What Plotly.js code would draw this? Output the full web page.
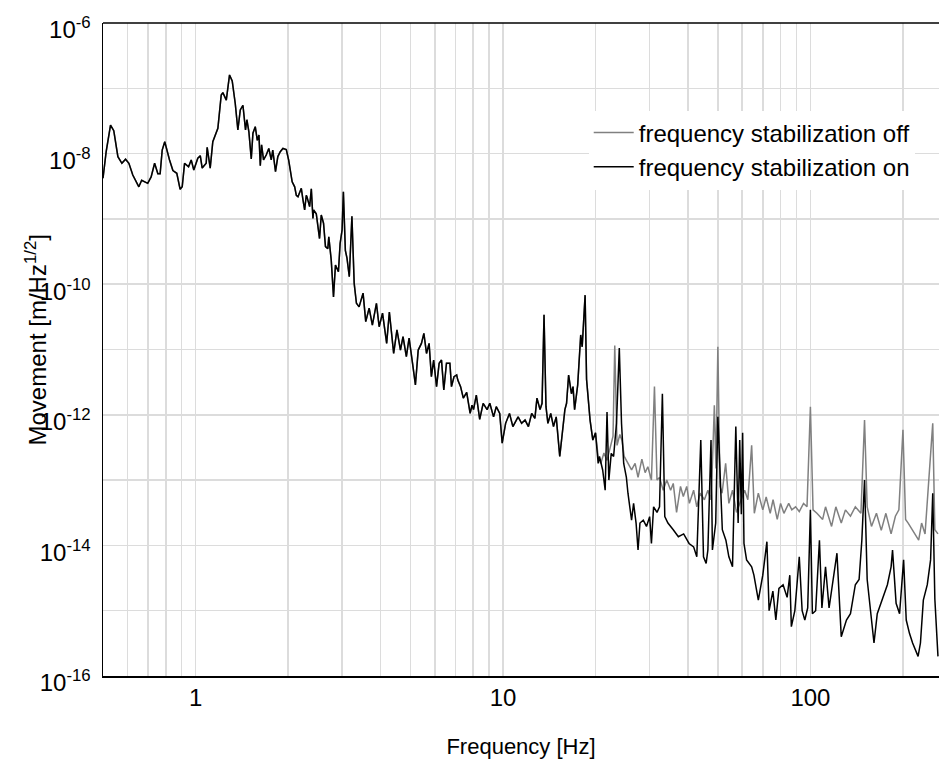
<!DOCTYPE html>
<html>
<head>
<meta charset="utf-8">
<script src="https://cdn.plot.ly/plotly-3.0.1.min.js"></script>
<style>html,body{margin:0;padding:0;background:#fff;}#chart{width:939px;height:763px;}</style>
</head>
<body>
<div id="chart"></div>
<script>
// Shared part of both spectra (the two curves coincide below ~20 Hz)
const freqCommon = [0.5,0.512,0.529,0.542,0.559,0.576,0.592,0.607,0.625,0.654,0.668,0.699,0.717,0.736,0.754,0.767,0.779,0.794,0.823,0.844,0.869,0.891,0.905,0.921,0.949,0.968,0.987,1.017,1.036,1.051,1.083,1.091,1.116,1.138,1.182,1.212,1.227,1.259,1.29,1.316,1.346,1.373,1.398,1.426,1.454,1.469,1.491,1.518,1.537,1.564,1.588,1.608,1.624,1.64,1.664,1.698,1.731,1.763,1.783,1.82,1.852,1.886,1.924,1.973,2.008,2.05,2.062,2.101,2.127,2.154,2.192,2.208,2.236,2.264,2.292,2.303,2.35,2.38,2.409,2.421,2.47,2.531,2.564,2.608,2.646,2.693,2.713,2.763,2.81,2.852,2.916,2.953,2.997,3.026,3.071,3.109,3.163,3.226,3.281,3.337,3.404,3.507,3.578,3.67,3.76,3.876,3.956,4.057,4.185,4.27,4.41,4.52,4.64,4.73,4.85,4.95,5.08,5.19,5.3,5.43,5.53,5.64,5.75,5.85,5.95,6.08,6.2,6.31,6.42,6.55,6.72,6.8,6.93,7.07,7.13,7.28,7.43,7.62,7.82,7.93,8.02,8.19,8.4,8.62,8.88,9.06,9.32,9.51,9.76,9.94,10.2,10.5,10.77,11.2,11.5,11.8,12.1,12.4,12.7,12.9,13.2,13.4,13.6,13.8,14.0,14.3,14.6,14.9,15.3,15.6,15.9,16.1,16.35,16.7,16.9,17.1,17.5,17.9,18.1,18.5,18.7,19.2,19.6,20.0];
const movCommon = [4.2e-9,1.07e-8,2.74e-8,2.24e-8,8.97e-9,7.1e-9,8.2e-9,7.1e-9,4.7e-9,3.1e-9,3.9e-9,3.5e-9,4.4e-9,7.1e-9,4.9e-9,4.9e-9,1.13e-8,1.52e-8,8.0e-9,5.5e-9,5.0e-9,2.84e-9,3.1e-9,7.1e-9,6.3e-9,8.0e-9,5.6e-9,8.5e-9,9.3e-9,6.0e-9,7.1e-9,1.25e-8,6.0e-9,1.52e-8,2.44e-8,7.9e-8,8.6e-8,6.6e-8,1.6e-7,1.3e-7,5.9e-8,2.3e-8,4.66e-8,5.5e-8,2.3e-8,3.3e-8,2.16e-8,8.3e-9,2.05e-8,2.58e-8,1.6e-8,1.93e-8,6.5e-9,1.36e-8,8.0e-9,9.5e-9,1.2e-8,8.0e-9,1.13e-8,5.3e-9,9.0e-9,1.07e-8,1.2e-8,1.15e-8,8.0e-9,3.9e-9,3.7e-9,3.1e-9,2.3e-9,2.19e-9,2.77e-9,2.94e-9,1.95e-9,1.37e-9,2.3e-9,2.19e-9,1.54e-9,2.9e-9,1.02e-9,1.37e-9,1.2e-9,5.0e-10,1.15e-9,8.6e-10,3.76e-10,3.5e-10,5.3e-10,2.34e-10,6.4e-11,1.97e-10,1.55e-10,4.2e-10,6.8e-10,2.6e-9,3.3e-10,2.5e-10,1.3e-10,1.1e-9,1.03e-10,5.1e-11,4.5e-11,7.3e-11,2.67e-11,4.3e-11,2.37e-11,5.1e-11,2.23e-11,3.6e-11,1.24e-11,3.75e-11,8.7e-12,2.0e-11,9.8e-12,1.57e-11,7.8e-12,1.5e-11,6.15e-12,2.86e-12,9.8e-12,1.24e-11,1.77e-11,8.7e-12,1.24e-11,3.83e-12,6.9e-12,2.7e-12,6.15e-12,6.9e-12,2.4e-12,6.15e-12,6.15e-12,2.7e-12,3.83e-12,4.07e-12,3.4e-12,2.7e-12,1.8e-12,2.2e-12,1.05e-12,1.4e-12,1.2e-12,2.0e-12,8.5e-13,1.5e-12,1.2e-12,1.5e-12,9.3e-13,1.33e-12,1.05e-12,3.67e-13,7.4e-13,1.05e-12,6.6e-13,9.3e-13,7.4e-13,8.3e-13,6.6e-13,1.05e-12,8.8e-13,1.8e-12,1.2e-12,1.5e-12,3.4e-11,1.33e-12,7.4e-13,1.05e-12,6.6e-13,9.3e-13,2.3e-13,5.3e-13,1.2e-12,1.5e-12,4.07e-12,2.1e-12,2.7e-12,1.2e-12,2.86e-12,1.67e-11,1.1e-11,6.8e-11,3.5e-12,8.3e-13,4.1e-13,5.3e-13];

// "frequency stabilization off" above 20 Hz
const freqOff = [20.4,20.8,21.3,21.8,22.3,22.8,23.1,23.5,24.0,24.4,24.8,25.5,26.2,26.9,27.5,28.3,29.0,29.6,30.4,31.1,31.7,32.3,33.2,34.1,35.1,35.8,36.7,37.8,38.6,39.6,40.4,41.7,42.7,43.8,45.2,46.4,47.4,48.0,48.7,49.3,50.0,50.8,51.6,53.0,54.3,55.8,57.5,59.5,61.1,62.6,64.4,65.7,67.7,70,71.8,74,75.6,78,80,82,85,87,89.5,92,95,97.5,100,102,105,109.6,112,117.2,121,126,130,135,140,146,150,153,158,164,170,176,183,189,194,200,204,208,214,225,230,236,250,254,260];
const movOff = [2.3e-13,1.8e-13,2.6e-13,2.0e-13,3.0e-13,4.7e-13,1.15e-11,3.4e-13,5.0e-13,4.0e-13,2.3e-13,1.8e-13,1.43e-13,1.8e-13,1.1e-13,2.1e-13,1.3e-13,1.6e-13,1.0e-13,2.7e-12,1.0e-13,1.1e-13,7.0e-14,1.0e-13,7.0e-14,8.9e-14,3.2e-14,8.0e-14,5.6e-14,8.0e-14,4.4e-14,7.0e-14,3.9e-14,6.3e-14,5.0e-14,7.0e-14,5.0e-14,1.8e-13,1.4e-12,1.5e-13,1.1e-11,8.0e-14,6.3e-14,1.8e-13,4.4e-14,7.0e-14,3.2e-14,5.0e-14,7.0e-14,5.0e-14,3.4e-13,3.1e-14,6.3e-14,3.5e-14,5.5e-14,3.1e-14,5.0e-14,2.5e-14,4.4e-14,3.1e-14,4.4e-14,3.5e-14,3.9e-14,3.3e-14,4.4e-14,3.9e-14,1.33e-12,3.5e-14,3.1e-14,2.5e-14,3.9e-14,1.95e-14,3.9e-14,2.2e-14,3.5e-14,2.8e-14,3.9e-14,3.1e-14,8.3e-13,3.9e-14,1.95e-14,3.1e-14,1.7e-14,3.1e-14,1.5e-14,2.8e-14,3.5e-14,5.9e-13,2.5e-14,2.2e-14,1.74e-14,1.2e-14,2.2e-14,1.5e-14,7.4e-13,1.74e-14,1.5e-14];

// "frequency stabilization on" above 20 Hz
const freqOn = [20.4,20.6,21.1,21.5,21.8,22.1,22.5,22.9,23.4,23.9,24.3,24.7,25.2,25.5,25.8,26.2,26.6,27.1,27.5,27.9,28.6,29.3,30.0,30.4,30.9,31.7,32.3,33.0,33.6,34.4,35.8,37.2,38.7,40.3,41.7,42.7,44.0,44.9,45.8,46.4,47.5,48.0,49.2,50.0,51.7,53.1,54.3,55.8,57.2,58.2,58.9,59.6,60.2,60.8,62.0,64.4,65.5,67.7,70,72.2,73.4,75.5,77.2,79,81.5,84,85.7,86.7,89,92,94,95.9,98,100,101.5,104,107,109,112,115,122,124,126,131,135,140,144,147,150,153,157,161,165,172,178,183,185,190,195,201,205,210,215,224,228,233,240,246,250,254,260];
const movOn = [1.8e-13,2.3e-13,1.43e-13,7.0e-14,1.1e-12,1.0e-13,2.56e-13,2.3e-13,7.4e-13,1.05e-11,7.4e-13,1.8e-13,1.1e-13,6.3e-14,3.9e-14,2.43e-14,4.4e-14,2.2e-14,8.5e-15,2.2e-14,2.43e-14,1.95e-14,2.76e-14,1.07e-14,3.9e-14,3.2e-14,3.9e-14,2.1e-12,2.76e-14,2.2e-14,1.74e-14,1.36e-14,1.5e-14,1.07e-14,9.5e-15,6.7e-15,4.1e-13,6.7e-15,5.3e-15,8.5e-15,4.1e-13,8.5e-15,2.2e-14,9.3e-13,1.74e-14,1.2e-14,6.7e-15,4.7e-15,6.6e-13,2.2e-14,4.1e-13,3.0e-14,5.3e-13,1.07e-14,6.0e-15,4.7e-15,3.5e-15,1.45e-15,3.5e-15,1.14e-14,1.0e-15,2.0e-15,7.2e-16,2.2e-15,2.5e-15,1.6e-15,3.5e-15,5.7e-16,1.0e-15,6.7e-15,1.0e-15,7.2e-16,1.1e-15,3.5e-14,9.0e-16,1.0e-15,1.2e-14,1.1e-15,4.7e-15,1.1e-15,7.6e-15,1.5e-15,4.0e-16,7.2e-16,9.0e-16,2.5e-15,3.0e-15,1.2e-14,1.0e-13,3.0e-15,9.0e-16,3.2e-16,9.0e-16,1.6e-15,2.5e-15,4.7e-15,8.5e-15,1.3e-15,9.0e-16,6.0e-15,7.2e-16,4.5e-16,3.2e-16,2.0e-16,3.2e-16,1.45e-15,2.5e-15,6.0e-15,6.3e-14,1.5e-15,2.0e-16];

// Labelled ticks and unlabelled grid positions
const xTickVals = [1,10,100];
const xTickText = ['1','10','100'];
const xGridVals = [0.5,0.6,0.7,0.8,0.9,2,3,4,5,6,7,8,9,20,30,40,50,60,70,80,90,200];
const yTickVals = [1e-16,1e-14,1e-12,1e-10,1e-8,1e-6];
const yTickText = ['10<sup>-16</sup>','10<sup>-14</sup>','10<sup>-12</sup>','10<sup>-10</sup>','10<sup>-8</sup>','10<sup>-6</sup>'];
const yGridVals = [1e-15,1e-13,1e-11,1e-9,1e-7];

const seriesNames = ['frequency stabilization off','frequency stabilization on'];
const xTitle = 'Frequency [Hz]';
const yTitle = 'Movement [m/Hz<sup>1/2</sup>]';

const FONT = 'Liberation Sans, Arial, Helvetica, sans-serif';
const GRID = '#dcdcdc';
const traces = [
  {x: freqCommon.concat(freqOff), y: movCommon.concat(movOff), type:'scatter', mode:'lines',
   name: seriesNames[0], legendgroup:'a', line:{color:'#808080', width:1.5}},
  {x: freqCommon.concat(freqOn), y: movCommon.concat(movOn), type:'scatter', mode:'lines',
   name: seriesNames[1], legendgroup:'b', line:{color:'#000000', width:1.5}}
];

const layout = {
  width: 939, height: 763,
  margin: {l:103, r:0, t:23, b:87, pad:0},
  paper_bgcolor:'#ffffff', plot_bgcolor:'#ffffff',
  font: {family: FONT, size: 22, color:'#000'},
  showlegend: true,
  legend: {x: 0.581, xanchor:'left', y: 0.866, yanchor:'top', bgcolor:'#ffffff', borderwidth:0,
           font:{family:FONT, size:24, color:'#000'}, itemwidth:40, tracegroupgap:0, traceorder:'normal'},
  xaxis: {type:'log', range:[Math.log10(0.5), Math.log10(262)], tickmode:'array', tickvals:xTickVals, ticktext:xTickText,
          minor:{tickmode:'array', tickvals:xGridVals, showgrid:true, gridcolor:GRID, gridwidth:1.5, ticks:''},
          showgrid:true, gridcolor:GRID, gridwidth:1.5, zeroline:false, showline:true, linecolor:'#000', linewidth:1.5,
          mirror:false, ticks:'', tickfont:{family:FONT, size:24}, ticklabelstandoff:0,
          title:{text:xTitle, font:{family:FONT, size:22}, standoff:28}},
  yaxis: {type:'log', range:[-16,-6], tickmode:'array', tickvals:yTickVals, ticktext:yTickText,
          minor:{tickmode:'array', tickvals:yGridVals, showgrid:true, gridcolor:GRID, gridwidth:1.5, ticks:''},
          showgrid:true, gridcolor:GRID, gridwidth:1.5, zeroline:false, showline:true, linecolor:'#000', linewidth:1.5,
          mirror:false, ticks:'', tickfont:{family:FONT, size:24}, ticklabelstandoff:6, ticklabelshift:7},
  shapes: [{type:'line', xref:'paper', yref:'paper', x0:0, x1:1, y0:1, y1:1, line:{color:'#000', width:1.5}, layer:'above'}],
  annotations: [{text:yTitle, xref:'paper', yref:'paper', x:-0.08, y:0.514,
                 xanchor:'center', yanchor:'middle', textangle:-90, showarrow:false, font:{family:FONT, size:24, color:'#000'}}]
};

Plotly.newPlot('chart', traces, layout, {displayModeBar:false, staticPlot:true});
</script>
</body>
</html>
